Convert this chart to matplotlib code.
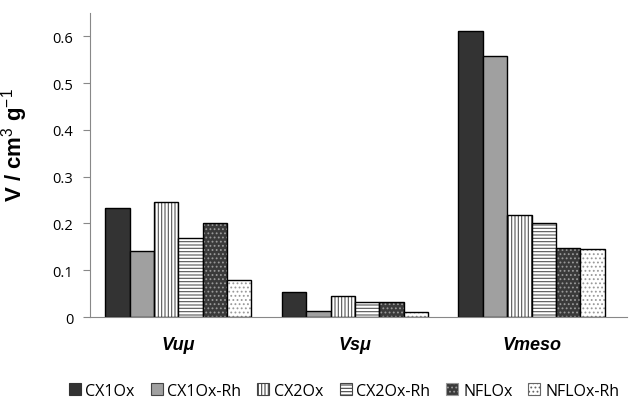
import numpy as np
import matplotlib.pyplot as plt
from matplotlib.patches import Patch

plt.rcParams['hatch.linewidth'] = 0.8
plt.rcParams['mathtext.fontset'] = 'custom'
plt.rcParams['mathtext.rm'] = 'Liberation Sans'
plt.rcParams['mathtext.bf'] = 'Liberation Sans:bold'

groups = ['Vuμ', 'Vsμ', 'Vmeso']
samples = ['CX1Ox', 'CX1Ox-Rh', 'CX2Ox', 'CX2Ox-Rh', 'NFLOx', 'NFLOx-Rh']
cx1ox = [0.233, 0.053, 0.611]
cx1ox_rh = [0.141, 0.013, 0.558]
cx2ox = [0.246, 0.045, 0.218]
cx2ox_rh = [0.169, 0.032, 0.201]
nflox = [0.201, 0.032, 0.147]
nflox_rh = [0.079, 0.010, 0.145]

series = [cx1ox, cx1ox_rh, cx2ox, cx2ox_rh, nflox, nflox_rh]
faces = ['#333333', '#a0a0a0', 'white', 'white', '#3a3a3a', 'white']
hatches = [None, None, '|||||', '-----', '....', '....']
hatch_cols = ['black', 'black', '#555555', '#555555', '#9a9a9a', '#999999']
legend_edges = ['#333333', '#444444', '#444444', '#444444', '#999999', '#666666']

fig = plt.figure(figsize=(6.31, 4.06), dpi=100)
ax = fig.add_axes([0.1426, 0.2167, 0.851, 0.749])

x = np.arange(len(groups))
w = 0.138
handles = []
for i, (vals, fc, h, hc, lab) in enumerate(zip(series, faces, hatches, hatch_cols, samples)):
    pos = x + (i - 2.5) * w
    ax.bar(pos, vals, w, color=fc, edgecolor=hc, hatch=h, linewidth=0)
    ax.bar(pos, vals, w, color='none', edgecolor='black', linewidth=1.0)
    handles.append(Patch(facecolor=fc, edgecolor=legend_edges[i], hatch=h,
                         linewidth=0.8, label=lab))

ax.set_xlim(-0.5, 2.54)
ax.set_ylim(0, 0.65)
ax.set_yticks([0, 0.1, 0.2, 0.3, 0.4, 0.5, 0.6])
ax.set_yticklabels(['0', '0.1', '0.2', '0.3', '0.4', '0.5', '0.6'], family='Open Sans')
ax.set_xticks(x)
ax.set_xticklabels(groups, fontsize=13, fontweight='bold', fontstyle='italic',
                   family='Liberation Sans')
ax.tick_params(axis='x', length=0, pad=14)
ax.tick_params(axis='y', labelsize=10.5, length=5, color='#888888', pad=7)
for s in ['top', 'right']:
    ax.spines[s].set_visible(False)
ax.spines['left'].set_color('#888888')
ax.spines['bottom'].set_color('#888888')

ax.set_ylabel(r'V / cm$^{\mathrm{3}}$ g$^{\mathrm{-1}}$', fontsize=16, fontweight='bold',
              family='Liberation Sans')
ax.yaxis.set_label_coords(-0.112, 0.57)

fig.legend(handles=handles, loc='center', bbox_to_anchor=(0.545, 0.035), ncol=6,
           frameon=False, handlelength=0.75, handleheight=0.75,
           handletextpad=0.3, columnspacing=1.0, prop={'family': 'Open Sans', 'size': 11.5})

fig.savefig('out.png', dpi=100)
